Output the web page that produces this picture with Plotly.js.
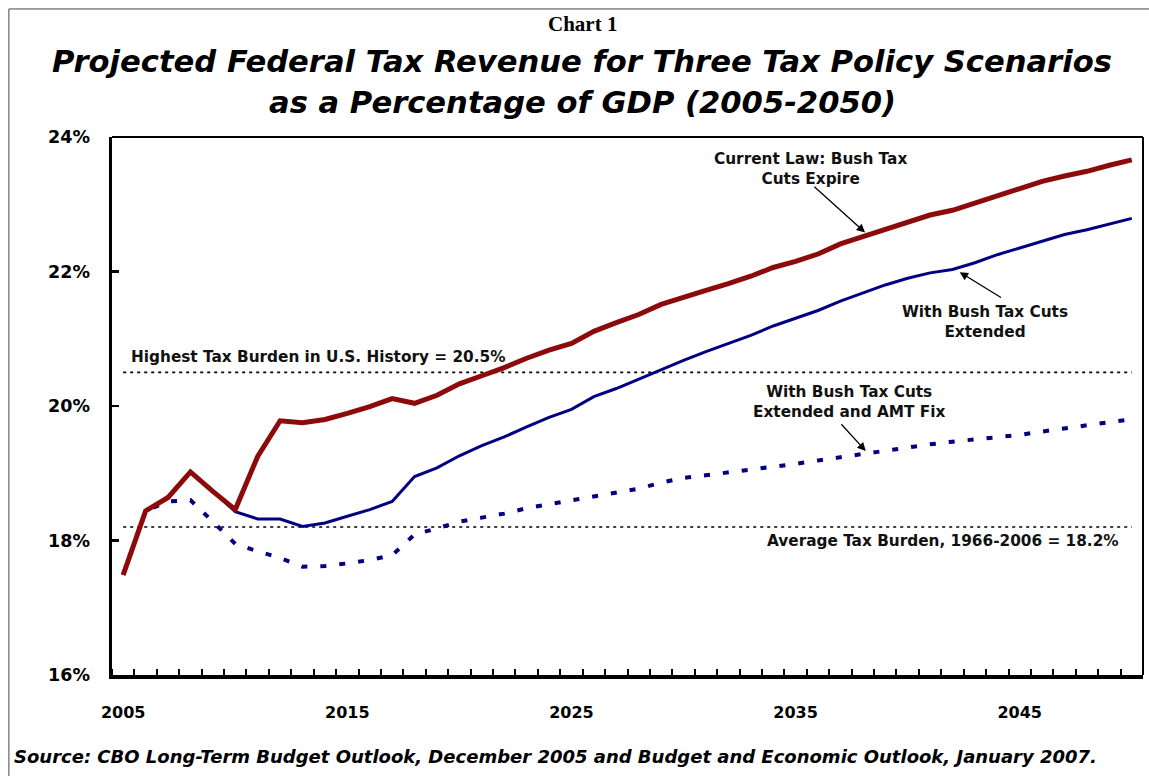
<!DOCTYPE html>
<html>
<head>
<meta charset="utf-8">
<script src="https://cdn.plot.ly/plotly-3.0.1.min.js"></script>
<style>
  html, body { margin: 0; padding: 0; background: #fff; }
  #chart { width: 1149px; height: 776px; }
</style>
</head>
<body>
<div id="chart"></div>
<script>
// ---- Data (percent of GDP) ----
const years = [2005,2006,2007,2008,2009,2010,2011,2012,2013,2014,2015,2016,2017,2018,2019,2020,2021,2022,2023,2024,2025,2026,2027,2028,2029,2030,2031,2032,2033,2034,2035,2036,2037,2038,2039,2040,2041,2042,2043,2044,2045,2046,2047,2048,2049,2050];

const currentLaw = [17.49,18.44,18.64,19.02,18.73,18.46,19.25,19.78,19.75,19.80,19.89,19.99,20.11,20.04,20.16,20.33,20.45,20.57,20.71,20.83,20.93,21.11,21.24,21.36,21.51,21.62,21.72,21.82,21.93,22.06,22.15,22.26,22.41,22.52,22.63,22.74,22.84,22.91,23.02,23.13,23.24,23.34,23.42,23.49,23.58,23.66];

const cutsExtended = [17.49,18.44,18.64,19.02,18.73,18.43,18.32,18.32,18.21,18.26,18.36,18.46,18.58,18.95,19.08,19.26,19.41,19.54,19.69,19.83,19.95,20.14,20.26,20.40,20.55,20.68,20.81,20.93,21.05,21.19,21.30,21.42,21.56,21.68,21.80,21.90,21.98,22.03,22.13,22.25,22.35,22.45,22.55,22.62,22.71,22.79];

const cutsExtendedAMT = [17.49,18.44,18.58,18.60,18.28,17.95,17.84,17.74,17.61,17.62,17.66,17.71,17.78,18.09,18.18,18.28,18.34,18.40,18.48,18.54,18.59,18.65,18.71,18.77,18.86,18.93,18.97,19.01,19.05,19.09,19.14,19.19,19.24,19.29,19.33,19.38,19.43,19.47,19.50,19.54,19.57,19.62,19.67,19.72,19.76,19.80];

const highestBurden = 20.5;
const averageBurden = 18.2;
const refSpan = [2005, 2050];

const yTickVals = [16, 18, 20, 22, 24];
const yTickText = ['16%', '18%', '20%', '22%', '24%'];
const xTickVals = [2005, 2015, 2025, 2035, 2045];
const xTickText = ['2005', '2015', '2025', '2035', '2045'];

// ---- Styles ----
const SANS = 'DejaVu Sans, Verdana, sans-serif';
const RED = '#8C0A0A';
const NAVY = '#000080';

const traces = [
  { x: refSpan, y: [highestBurden, highestBurden], mode: 'lines', hoverinfo: 'skip',
    line: { color: '#000', width: 1.6, dash: '3px,4px' }, showlegend: false },
  { x: refSpan, y: [averageBurden, averageBurden], mode: 'lines', hoverinfo: 'skip',
    line: { color: '#000', width: 1.6, dash: '3px,4px' }, showlegend: false },
  { x: years, y: cutsExtendedAMT, mode: 'lines', name: 'With Bush Tax Cuts Extended and AMT Fix',
    line: { color: NAVY, width: 4, dash: '6px,13px' }, showlegend: false },
  { x: years, y: cutsExtended, mode: 'lines', name: 'With Bush Tax Cuts Extended',
    line: { color: NAVY, width: 3 }, showlegend: false },
  { x: years, y: currentLaw, mode: 'lines', name: 'Current Law: Bush Tax Cuts Expire',
    line: { color: RED, width: 5 }, showlegend: false }
];

const annFont = { family: SANS, size: 15.3, color: '#111' };

const annotations = [
  { xref: 'paper', yref: 'paper', x: 0.456, y: 1.21, xanchor: 'center', yanchor: 'middle',
    text: '<b>Chart 1</b>', showarrow: false,
    font: { family: 'Liberation Serif, Times New Roman, serif', size: 21, color: '#000' } },
  { xref: 'paper', yref: 'paper', x: 0.456, y: 1.141, xanchor: 'center', yanchor: 'middle',
    text: '<b><i>Projected Federal Tax Revenue for Three Tax Policy Scenarios</i></b>', showarrow: false,
    font: { family: SANS, size: 30.6, color: '#000' } },
  { xref: 'paper', yref: 'paper', x: 0.456, y: 1.064, xanchor: 'center', yanchor: 'middle',
    text: '<b><i>as a Percentage of GDP (2005-2050)</i></b>', showarrow: false,
    font: { family: SANS, size: 30.6, color: '#000' } },
  { xref: 'paper', yref: 'paper', x: -0.097, y: -0.152, xanchor: 'left', yanchor: 'middle',
    text: '<b><i>Source: CBO Long-Term Budget Outlook, December 2005 and Budget and Economic Outlook, January 2007.</i></b>',
    showarrow: false, font: { family: SANS, size: 18, color: '#000' } },

  { x: 2005.28, y: 20.73, xanchor: 'left', yanchor: 'middle',
    text: '<b>Highest Tax Burden in U.S. History = 20.5%</b>', showarrow: false, font: annFont },
  { x: 2049.53, y: 17.99, xanchor: 'right', yanchor: 'middle',
    text: '<b>Average Tax Burden, 1966-2006 = 18.2%</b>', showarrow: false, font: annFont },

  { x: 2035.68, y: 23.52, xanchor: 'center', yanchor: 'middle', align: 'center',
    text: '<b>Current Law: Bush Tax<br>Cuts Expire</b>', showarrow: false, font: annFont },
  { x: 2043.47, y: 21.25, xanchor: 'center', yanchor: 'middle', align: 'center',
    text: '<b>With Bush Tax Cuts<br>Extended</b>', showarrow: false, font: annFont },
  { x: 2037.38, y: 20.06, xanchor: 'center', yanchor: 'middle', align: 'center',
    text: '<b>With Bush Tax Cuts<br>Extended and AMT Fix</b>', showarrow: false, font: annFont },

  // arrows
  { x: 2038.1, y: 22.58, ax: 2035.77, ay: 23.28, axref: 'x', ayref: 'y', text: '',
    showarrow: true, arrowhead: 2, arrowsize: 1.3, arrowwidth: 1.3, arrowcolor: '#000' },
  { x: 2042.32, y: 21.99, ax: 2044.23, ay: 21.60, axref: 'x', ayref: 'y', text: '',
    showarrow: true, arrowhead: 2, arrowsize: 1.3, arrowwidth: 1.3, arrowcolor: '#000' },
  { x: 2038.13, y: 19.33, ax: 2036.98, ay: 19.75, axref: 'x', ayref: 'y', text: '',
    showarrow: true, arrowhead: 2, arrowsize: 1.3, arrowwidth: 1.3, arrowcolor: '#000' }
];

const shapes = [
  // plot box top and right
  { type: 'line', xref: 'paper', yref: 'paper', x0: 0, x1: 1, y0: 1, y1: 1, line: { color: '#000', width: 2 } },
  { type: 'line', xref: 'paper', yref: 'paper', x0: 1, x1: 1, y0: 0, y1: 1, line: { color: '#000', width: 2 } },
  // outer frame (left and top)
  { type: 'line', xref: 'paper', yref: 'paper', x0: -0.1, x1: -0.1, y0: -0.3, y1: 1.238, line: { color: '#444', width: 1 } },
  { type: 'line', xref: 'paper', yref: 'paper', x0: -0.1, x1: 1.1, y0: 1.238, y1: 1.238, line: { color: '#444', width: 1 } }
];

const layout = {
  width: 1149, height: 776,
  margin: { l: 112, r: 6, t: 137, b: 101 },
  paper_bgcolor: '#fff', plot_bgcolor: '#fff',
  showlegend: false,
  xaxis: {
    range: [2004.5, 2050.5], tickmode: 'array', tickvals: xTickVals, ticktext: xTickText,
    ticks: '', showgrid: false, zeroline: false,
    showline: true, linecolor: '#000', linewidth: 3.5,
    ticklabelstandoff: 20,
    tickfont: { family: SANS, size: 16, color: '#000', weight: 'bold' },
    minor: { tickmode: 'linear', tick0: 2004.5, dtick: 1, ticks: 'inside', ticklen: 6, tickwidth: 2, tickcolor: '#000', showgrid: false }
  },
  yaxis: {
    range: [16, 24], tickmode: 'array', tickvals: yTickVals, ticktext: yTickText,
    ticks: 'inside', ticklen: 7, tickwidth: 2.5, tickcolor: '#000',
    showgrid: false, zeroline: false,
    showline: true, linecolor: '#000', linewidth: 3.5,
    ticklabelstandoff: 15,
    tickfont: { family: SANS, size: 17.5, color: '#000', weight: 'bold' }
  },
  annotations: annotations,
  shapes: shapes
};

Plotly.newPlot('chart', traces, layout, { displayModeBar: false, staticPlot: true });
</script>
</body>
</html>
